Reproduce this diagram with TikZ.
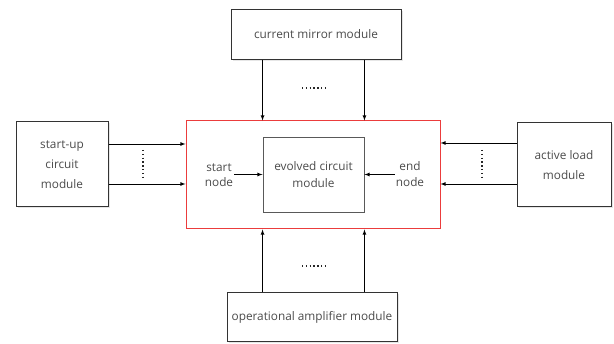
\documentclass[tikz,border=0pt]{standalone}
\usepackage{fontspec}
\setmainfont{Open Sans}
\usetikzlibrary{shadows}
\definecolor{txtgray}{RGB}{75,75,75}
\definecolor{boxred}{RGB}{235,60,60}
\tikzset{
	module/.style={draw=black!80,line width=1pt,fill=white,align=center,text=txtgray,
		drop shadow={opacity=0.2,shadow xshift=1.5pt,shadow yshift=-1.5pt}},
	dots/.style={line width=1.9pt,dash pattern=on 1.4pt off 2.4pt,black!85}
}
\begin{document}
\begin{tikzpicture}[x=1pt,y=-1pt,>=latex,font=\fontsize{11.8}{20}\selectfont]
	\useasboundingbox (0,0) rectangle (614,344);
	% outer modules
	\node[module,minimum width=170pt,minimum height=50pt] (mirror) at (316,34.5) {current mirror module};
	\node[module,minimum width=92pt,minimum height=85pt] (startup) at (62,164.5) {start-up\\circuit\\module};
	\node[module,minimum width=94pt,minimum height=84pt] (activeload) at (564,165) {active load\\module};
	\node[module,minimum width=170pt,minimum height=49pt] (opamp) at (312,317.5) {operational amplifier module};

	% evolution region and the evolved block
	\node[draw=boxred,line width=1pt,minimum width=254pt,minimum height=108pt] (region) at (313,175) {};
	\node[draw=black!65,line width=0.9pt,minimum width=101pt,minimum height=75pt,align=center,text=txtgray,
		font=\fontsize{11.8}{16.5}\selectfont] (evolved) at (313.5,174.5) {evolved circuit\\module};
	\node[align=center,text=txtgray,inner sep=1pt,font=\fontsize{11.8}{15.5}\selectfont] (start) at (219,175) {start\\node};
	\node[align=center,text=txtgray,inner sep=1pt,font=\fontsize{11.8}{15.5}\selectfont] (end) at (410,174) {end\\node};
	\draw[->,thick] (start.east |- evolved.west) -- (evolved.west);
	\draw[->,thick] (end.west |- evolved.east) -- (evolved.east);

	% top and bottom connections
	\draw[->,thick] (evolved.north west |- mirror.south) -- (evolved.north west |- region.north);
	\draw[->,thick] (evolved.north east |- mirror.south) -- (evolved.north east |- region.north);
	\draw[->,thick] (evolved.south west |- opamp.north) -- (evolved.south west |- region.south);
	\draw[->,thick] (evolved.south east |- opamp.north) -- (evolved.south east |- region.south);
	\draw[dots] (302,88) -- (327,88);% top dots
	\draw[dots] (302,266) -- (327,266);% bottom dots

	% side connections
	\draw[->,thick] ([yshift=20.5pt]startup.east) -- ([yshift=20.5pt]startup.east -| region.west);
	\draw[->,thick] ([yshift=-19.5pt]startup.east) -- ([yshift=-19.5pt]startup.east -| region.west);
	\draw[->,thick] ([yshift=22pt]activeload.west) -- ([yshift=22pt]activeload.west -| region.east);
	\draw[->,thick] ([yshift=-19pt]activeload.west) -- ([yshift=-19pt]activeload.west -| region.east);
	\draw[dots] (143,150) -- (143,178);% left dots
	\draw[dots] (482,150) -- (482,178);% right dots
\end{tikzpicture}
\end{document}
